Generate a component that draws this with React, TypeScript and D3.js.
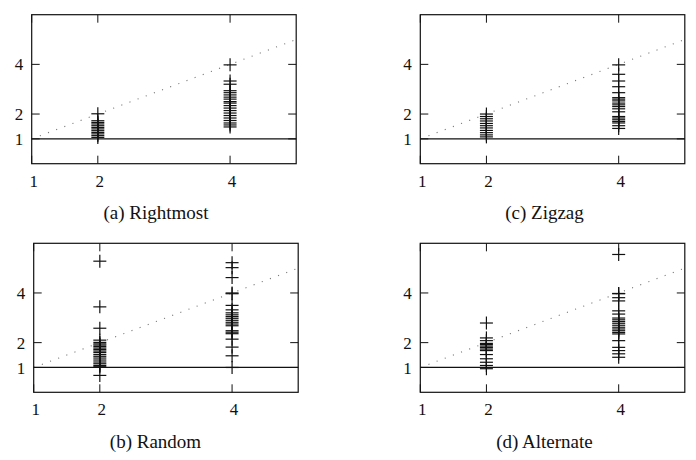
import React from "react";
import * as d3 from "d3";

// ratio values, grouped by panel and by x position
const xTicks = [1, 2, 4];
const yTicks = [1, 2, 4];

const rightmostAt2 = [2.01, 1.73, 1.66, 1.6, 1.53, 1.46, 1.4, 1.33, 1.26, 1.2, 1.13, 1.06];
const rightmostAt4 = [3.98, 3.33, 3.2, 2.94, 2.86, 2.77, 2.68, 2.6, 2.5, 2.44, 2.34, 2.24, 2.14, 2.04, 1.94, 1.84, 1.74, 1.64, 1.56, 1.48];

const zigzagAt2 = [2.0, 1.9, 1.81, 1.72, 1.62, 1.53, 1.44, 1.34, 1.25, 1.16, 1.08];
const zigzagAt4 = [3.98, 3.6, 3.33, 3.1, 2.86, 2.66, 2.6, 2.53, 2.44, 2.37, 2.3, 2.21, 2.09, 1.9, 1.84, 1.77, 1.7, 1.64, 1.53, 1.42];

const randomAt2 = [5.28, 3.44, 2.58, 2.1, 2.01, 1.95, 1.9, 1.84, 1.78, 1.72, 1.66, 1.6, 1.52, 1.45, 1.38, 1.3, 1.22, 1.15, 1.08, 1.03, 0.68];
const randomAt4 = [5.22, 5.02, 4.62, 4.0, 3.97, 3.5, 3.32, 3.2, 3.12, 3.05, 2.98, 2.9, 2.82, 2.75, 2.68, 2.48, 2.42, 2.36, 2.14, 1.82, 1.47, 1.0];

const alternateAt2 = [2.79, 2.19, 2.08, 1.97, 1.92, 1.86, 1.8, 1.74, 1.68, 1.52, 1.35, 1.21, 1.08, 0.95];
const alternateAt4 = [5.55, 3.98, 3.97, 3.81, 3.68, 3.28, 3.15, 2.99, 2.92, 2.85, 2.78, 2.7, 2.62, 2.55, 2.48, 2.41, 2.35, 2.08, 1.81, 1.68, 1.55, 1.41];

const panels = [
  { caption: "(a) Rightmost", at2: rightmostAt2, at4: rightmostAt4, left: 31.7, top: 14.7, cx: 156, cy: 218.5 },
  { caption: "(c) Zigzag", at2: zigzagAt2, at4: zigzagAt4, left: 420.3, top: 14.7, cx: 544.5, cy: 218.5 },
  { caption: "(b) Random", at2: randomAt2, at4: randomAt4, left: 33.7, top: 243.3, cx: 155.5, cy: 447.5 },
  { caption: "(d) Alternate", at2: alternateAt2, at4: alternateAt4, left: 420.3, top: 243.3, cx: 544.5, cy: 447.5 },
];

const W = 264.5;
const H = 149;
const tickLen = 8;
const markHalf = 6.5;
const font = "Liberation Serif";
const ink = "#111";

const Panel = ({ p }) => {
  const x = d3.scaleLinear().domain([1, 5]).range([p.left, p.left + W]);
  const y = d3.scaleLinear().domain([0, 6]).range([p.top + H, p.top]);
  const diag = d3.line().x((d) => x(d)).y((d) => y(d));
  const points = [
    ...p.at2.map((v) => ({ x: 2, v })),
    ...p.at4.map((v) => ({ x: 4, v })),
  ];
  return (
    <g>
      {/* ticks inside the frame */}
      {xTicks.map((t) => (
        <g key={"xt" + t}>
          <line x1={x(t)} x2={x(t)} y1={y(0)} y2={y(0) - tickLen} stroke={ink} strokeWidth={1} />
          <line x1={x(t)} x2={x(t)} y1={y(6)} y2={y(6) + tickLen} stroke={ink} strokeWidth={1} />
          <text x={x(t) + 2} y={y(0) + 23} textAnchor="middle" style={{ fontFamily: font, fontSize: 17 }} fill={ink}>
            {t}
          </text>
        </g>
      ))}
      {yTicks.map((t) => (
        <g key={"yt" + t}>
          <line x1={x(1)} x2={x(1) + tickLen} y1={y(t)} y2={y(t)} stroke={ink} strokeWidth={1} />
          <line x1={x(5)} x2={x(5) - tickLen} y1={y(t)} y2={y(t)} stroke={ink} strokeWidth={1} />
          <text x={x(1) - 8.5} y={y(t)} dy="0.36em" textAnchor="end" style={{ fontFamily: font, fontSize: 17 }} fill={ink}>
            {t}
          </text>
        </g>
      ))}
      {/* y = x reference, dotted */}
      <path d={diag([1, 5])} fill="none" stroke="#777" strokeWidth={1.1} strokeDasharray="1.1 7.6" />
      {/* ratio 1 baseline */}
      <line x1={x(1)} x2={x(5)} y1={y(1)} y2={y(1)} stroke={ink} strokeWidth={1.2} />
      {points.map((d, i) => (
        <g key={i} stroke={ink} strokeWidth={1.2}>
          <line x1={x(d.x) - markHalf} x2={x(d.x) + markHalf} y1={y(d.v)} y2={y(d.v)} />
          <line x1={x(d.x)} x2={x(d.x)} y1={y(d.v) - markHalf} y2={y(d.v) + markHalf} />
        </g>
      ))}
      <rect x={x(1)} y={y(6)} width={W} height={H} fill="none" stroke={ink} strokeWidth={1.2} />
      <text x={p.cx} y={p.cy} textAnchor="middle" style={{ fontFamily: font, fontSize: 19 }} fill={ink}>
        {p.caption}
      </text>
    </g>
  );
};

const App = () => {
  return (
    <svg width={696} height={460} style={{ position: "absolute", left: 0, top: 0, background: "#fff" }}>
      {panels.map((p) => (
        <Panel key={p.caption} p={p} />
      ))}
    </svg>
  );
};

export default App;
